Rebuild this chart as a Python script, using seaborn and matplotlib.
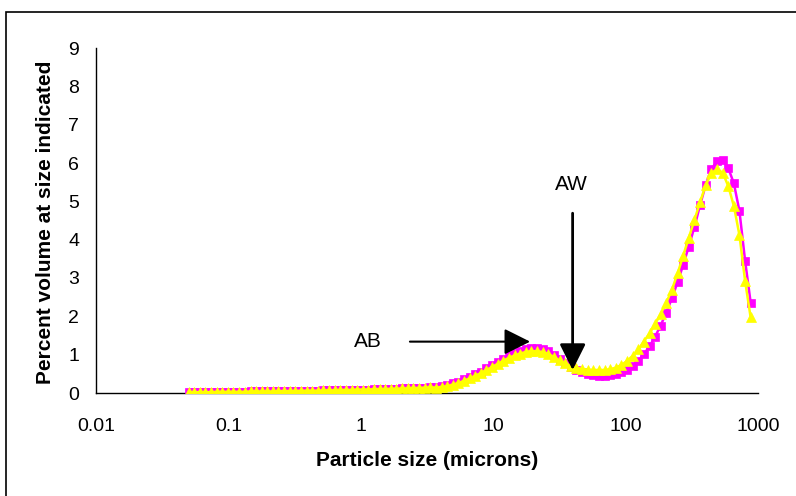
import matplotlib
matplotlib.use("Agg")
import matplotlib.pyplot as plt
import seaborn as sns
from matplotlib.ticker import LogLocator, NullFormatter
from matplotlib.patches import Rectangle

# Particle size classes (microns)
sizes = [0.0500, 0.0551, 0.0608, 0.0670, 0.0739, 0.0815, 0.0899, 0.0991, 0.109, 0.121,
         0.133, 0.147, 0.162, 0.178, 0.197, 0.217, 0.239, 0.263, 0.291, 0.320,
         0.353, 0.390, 0.430, 0.474, 0.522, 0.576, 0.635, 0.700, 0.772, 0.851,
         0.939, 1.04, 1.14, 1.26, 1.39, 1.53, 1.69, 1.86, 2.05, 2.26,
         2.50, 2.75, 3.03, 3.35, 3.69, 4.07, 4.49, 4.95, 5.46, 6.02,
         6.64, 7.32, 8.07, 8.90, 9.81, 10.8, 11.9, 13.2, 14.5, 16.0,
         17.6, 19.4, 21.4, 23.6, 26.1, 28.7, 31.7, 35.0, 38.5, 42.5,
         46.9, 51.7, 57.0, 62.8, 69.3, 76.4, 84.3, 92.9, 102, 113,
         125, 137, 152, 167, 184, 203, 224, 247, 272, 300,
         331, 365, 403, 444, 490, 540, 596, 657, 724, 799,
         880]

# Percent volume, first sample (magenta squares)
volume_a = [0.02, 0.02, 0.02, 0.02, 0.02, 0.03, 0.03, 0.03, 0.03, 0.03,
            0.03, 0.04, 0.04, 0.04, 0.04, 0.04, 0.05, 0.05, 0.05, 0.05,
            0.06, 0.06, 0.06, 0.06, 0.07, 0.07, 0.07, 0.08, 0.08, 0.08,
            0.09, 0.09, 0.09, 0.10, 0.10, 0.10, 0.11, 0.11, 0.12, 0.12,
            0.13, 0.13, 0.14, 0.15, 0.16, 0.18, 0.21, 0.25, 0.30, 0.36,
            0.42, 0.49, 0.56, 0.64, 0.72, 0.81, 0.90, 0.98, 1.05, 1.10,
            1.14, 1.17, 1.18, 1.15, 1.09, 0.99, 0.88, 0.78, 0.68, 0.60,
            0.54, 0.49, 0.46, 0.45, 0.45, 0.46, 0.49, 0.54, 0.61, 0.71,
            0.84, 1.01, 1.22, 1.47, 1.76, 2.10, 2.48, 2.89, 3.34, 3.82,
            4.33, 4.90, 5.43, 5.84, 6.04, 6.07, 5.87, 5.47, 4.75, 3.45,
            2.36]

# Percent volume, second sample (yellow triangles)
volume_b = [0.02, 0.02, 0.02, 0.02, 0.02, 0.03, 0.03, 0.03, 0.03, 0.03,
            0.03, 0.04, 0.04, 0.04, 0.04, 0.04, 0.05, 0.05, 0.05, 0.05,
            0.06, 0.06, 0.06, 0.06, 0.07, 0.07, 0.07, 0.08, 0.08, 0.08,
            0.09, 0.09, 0.09, 0.10, 0.10, 0.10, 0.11, 0.11, 0.12, 0.12,
            0.13, 0.13, 0.14, 0.15, 0.14, 0.16, 0.18, 0.22, 0.26, 0.32,
            0.38, 0.45, 0.52, 0.60, 0.68, 0.76, 0.84, 0.92, 0.98, 1.03,
            1.07, 1.09, 1.09, 1.07, 1.02, 0.94, 0.85, 0.77, 0.71, 0.66,
            0.63, 0.61, 0.60, 0.60, 0.60, 0.62, 0.66, 0.73, 0.83, 0.97,
            1.14, 1.34, 1.56, 1.80, 2.06, 2.36, 2.70, 3.12, 3.58, 4.05,
            4.51, 4.98, 5.42, 5.73, 5.84, 5.75, 5.40, 4.88, 4.12, 2.92,
            1.97]

x_ticks = [0.01, 0.1, 1, 10, 100, 1000]
x_tick_labels = ["0.01", "0.1", "1", "10", "100", "1000"]
y_ticks = [0, 1, 2, 3, 4, 5, 6, 7, 8, 9]

sns.set_style("white")
plt.rcParams["font.family"] = ["Liberation Sans", "DejaVu Sans"]
plt.rcParams.update({"text.color": "black", "axes.labelcolor": "black",
                     "xtick.color": "black", "ytick.color": "black"})

W, H = 796, 496
fig = plt.figure(figsize=(W / 100, H / 100), dpi=100)
ax = fig.add_axes([96 / W, 1 - 393 / H, (758 - 96) / W, (393 - 48) / H])
ax.set_xscale("log")

sns.lineplot(x=sizes, y=volume_a, ax=ax, color="#FF00FF", marker="s",
             markersize=6.2, markeredgecolor="#FF00FF", markeredgewidth=0.5,
             linewidth=1.8, estimator=None, sort=False, legend=False, zorder=3)
sns.lineplot(x=sizes, y=volume_b, ax=ax, color="#FFFF00", marker="^",
             markersize=6.8, markeredgecolor="#FFFF00", markeredgewidth=0.5,
             linewidth=1.8, estimator=None, sort=False, legend=False, zorder=4)

ax.set_xlim(0.01, 1000)
ax.set_ylim(0, 9)
ax.set_xticks(x_ticks)
ax.set_xticklabels(x_tick_labels)
ax.xaxis.set_minor_locator(LogLocator(base=10, subs=range(2, 10)))
ax.xaxis.set_minor_formatter(NullFormatter())
ax.set_yticks(y_ticks)

ax.tick_params(axis="both", which="major", direction="out", length=5, width=1,
               color="black", labelcolor="black", labelsize=14)
ax.tick_params(axis="x", which="major", pad=13)
ax.tick_params(axis="y", which="major", pad=7)
ax.tick_params(axis="x", which="minor", direction="out", length=4, width=1,
               color="black")

sns.despine(ax=ax)
for side in ("left", "bottom"):
    ax.spines[side].set_color("black")
    ax.spines[side].set_linewidth(1)

ax.set_xlabel("Particle size (microns)", fontsize=15, fontweight="bold")
ax.xaxis.set_label_coords(0.5, (393 - 461) / 345)
ax.xaxis.label.set_verticalalignment("center")
ax.set_ylabel("Percent volume at size indicated", fontsize=15, fontweight="bold")
ax.yaxis.set_label_coords((46 - 96) / 662, (393 - 222) / 345)
ax.yaxis.label.set_verticalalignment("center")

head = "-|>,head_length=1.0,head_width=0.5"
ax.annotate("", xy=(19.0, 1.34), xytext=(2.35, 1.34),
            arrowprops=dict(arrowstyle=head, mutation_scale=16, lw=1.5,
                            color="black", shrinkA=0, shrinkB=0), zorder=6)
ax.text(1.14, 1.34, "AB", fontsize=15, ha="center", va="center", zorder=6)
ax.annotate("", xy=(39.8, 0.60), xytext=(39.8, 4.69),
            arrowprops=dict(arrowstyle=head, mutation_scale=16, lw=2,
                            color="black", shrinkA=0, shrinkB=0), zorder=6)
ax.text(39.1, 5.43, "AW", fontsize=15, ha="center", va="center", zorder=6)

# Chart frame around the whole figure area
fig.patches.append(Rectangle((6 / W, -0.5), 2, 1 - 12 / H + 0.5,
                             transform=fig.transFigure, fill=False,
                             edgecolor="black", linewidth=1.2))

fig.savefig("out.png", dpi=100)
